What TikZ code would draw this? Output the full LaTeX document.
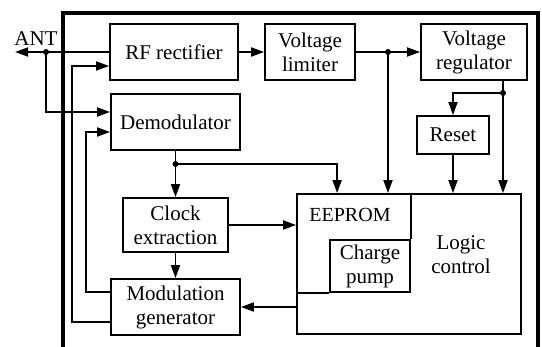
\documentclass[tikz,border=0pt]{standalone}
\usepackage{fontspec}
\setmainfont{Liberation Serif}
\usetikzlibrary{arrows.meta, positioning, calc}

\begin{document}
\begin{tikzpicture}[x=1pt, y=-1pt,
  blk/.style={draw, line width=1.8pt, inner sep=0pt, align=center,
    font=\fontsize{21}{24}\selectfont},
  lbl/.style={inner sep=0pt, align=center, font=\fontsize{21}{24}\selectfont},
  wire/.style={line width=1.8pt},
  arr/.style={wire, -{Triangle[length=13pt,width=9pt]}}]
  \useasboundingbox (0,0) rectangle (542,347);

  % chip outline
  \draw[line width=3.2pt] (63,347) -- (63,13) -- (538,13) -- (538,347);

  \node[blk, minimum width=128, minimum height=56] (rf) at (174,52) {RF rectifier};
  \node[blk, minimum width=90, minimum height=56] (lim) at (310,52) {Voltage\\limiter};
  \node[blk, minimum width=106, minimum height=56] (reg) at (474,52) {Voltage\\regulator};
  \node[blk, minimum width=72, minimum height=38] (reset) at (453,135) {Reset};
  \node[blk, minimum width=129, minimum height=56] (demod) at (175.5,122) {Demodulator};
  \node[blk, minimum width=105, minimum height=54] (clk) at (175.5,225) {Clock\\extraction};
  \node[blk, minimum width=129, minimum height=56] (mod) at (175.5,307) {Modulation\\generator};
  \node[blk, minimum width=224, minimum height=140] (logic) at (409,264) {};
  \node[blk, minimum width=80, minimum height=52] (cp) at (370,266) {Charge\\pump};
  \draw[wire] (logic.west |- cp.south) -- (cp.south west);
  \draw[wire] (cp.north east) -- (cp.north east |- logic.north);
  \node[lbl, font=\fontsize{20}{22}\selectfont] (eeprom) at (350,215) {EEPROM};
  \node[lbl] (lc) at (461,255) {Logic\\control};

  \coordinate (ant) at (15,52);
  \coordinate (antdot) at (46,52);
  \coordinate (ldot) at (388,52);
  \coordinate (rdot) at (503,93);
  \coordinate (ddot) at (175.5,164);
  \node[lbl] (anttext) at (36,39) {ANT};

  % antenna and supply path
  \draw[arr] (rf.west) -- (ant);
  \draw[arr] (antdot) |- ([yshift=10pt]demod.west);
  \draw[arr] (rf) -- (lim);
  \draw[arr] (lim) -- (reg);
  \draw[arr] (ldot) -- (ldot |- logic.north);
  \draw[wire] (reg.south -| rdot) -- (rdot);
  \draw[arr] (rdot) -- (rdot |- logic.north);
  \draw[arr] (rdot) -| (reset.north);
  \draw[arr] (reset) -- (reset |- logic.north);

  % data path
  \draw[wire] (demod.south) -- (ddot);
  \draw[arr] (ddot) -- (clk);
  \draw[arr] (ddot) -| ([xshift=41pt]logic.north west);
  \draw[arr] (clk) -- (clk -| logic.west);
  \draw[arr] (clk) -- (mod);
  \draw[arr] (mod.east -| logic.west) -- (mod.east);
  \draw[arr] ([yshift=15pt]mod.west) -- ++(-24,0) |- ([yshift=-10pt]demod.west);
  \draw[arr] ([yshift=-15pt]mod.west) -- ++(-38,0) |- ([yshift=-14pt]rf.west);

  \foreach \p in {antdot, ldot, rdot, ddot}
    \fill (\p) circle (3);
\end{tikzpicture}
\end{document}
